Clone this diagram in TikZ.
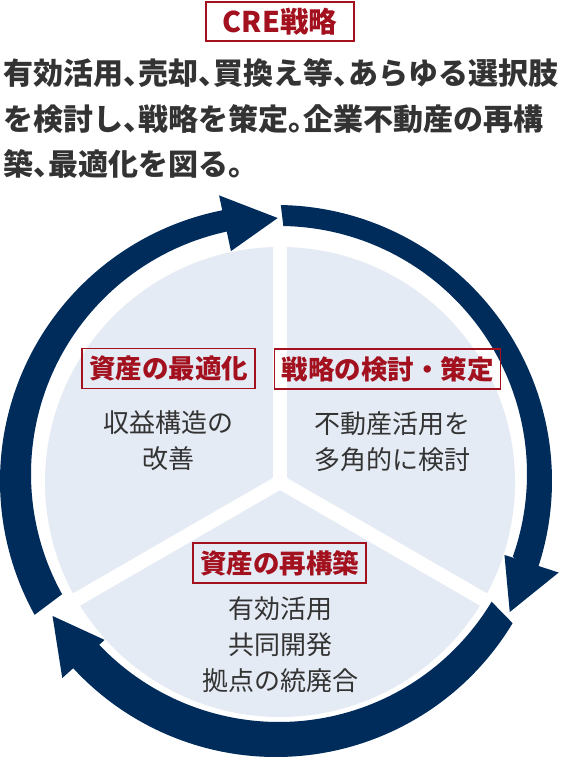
\documentclass[tikz,border=0pt]{standalone}
\usepackage{fontspec}
\usetikzlibrary{calc}
\newfontfamily\jpfont{Noto Sans CJK JP}
\newfontfamily\jphalt{Noto Sans CJK JP}[RawFeature=+halt]

\definecolor{navy}{RGB}{0,44,92}
\definecolor{diskfill}{RGB}{229,235,244}
\definecolor{crered}{RGB}{163,16,30}
\definecolor{textgray}{RGB}{51,51,51}

\tikzset{
  stagebox/.style = {draw=crered, line width=1.6pt, text=crered, inner xsep=7pt, inner ysep=0pt,
                     minimum height=40pt, font=\jpfont\bfseries\fontsize{26.5}{30}\selectfont},
  stagetext/.style = {text=textgray, align=center, inner sep=0pt,
                      font=\jpfont\fontsize{26}{36}\selectfont},
}

\begin{document}
\begin{tikzpicture}[x=1pt,y=1pt]
\useasboundingbox (0,0) rectangle (560,760);
\fill[white] (0,0) rectangle (560,760);
\coordinate (c) at (280,278);
\coordinate (o1) at (276,279);
\coordinate (o2) at (279,286);

% disk and dividers
\fill[diskfill] (c) circle[radius=235];
\foreach \a in {90,-30,210}
    \draw[white, line width=14pt] (c) -- ++(\a:242);

% ring of arrows
\foreach \a in {210,90,-30} {
    \fill[navy] ($(o1)+(\a-1:276)$) arc[start angle=\a-1, end angle=\a-109.5, radius=276]
        -- ($(o2)+(\a-109.5:248)$) arc[start angle=\a-109.5, end angle=\a-1, radius=248] -- cycle;
    \fill[navy] ($(c)+(\a-108:236)$) -- ($(c)+(\a-119.5:264)$) -- ($(c)+(\a-108:293)$) -- cycle;
}

% heading
\node[draw=crered, line width=1.6pt, fill=white, text=crered, minimum width=148pt, minimum height=39pt,
      inner sep=0pt, font=\jpfont\bfseries\fontsize{28.5}{30}\selectfont] (title) at (280,738.5) {CRE戦略};
\node[anchor=west, align=left, inner sep=0pt, text=textgray,
      font=\jphalt\bfseries\fontsize{30}{45.5}\selectfont] (lead) at (3,641.5)
    {有効活用、売却、買換え等、あらゆる選択肢\\を検討し、戦略を策定。企業不動産の再構\\築、最適化を図る。};

% stages
\node[stagebox] (optimize) at (168.5,391.5) {資産の最適化};
\node[stagetext] (optimize text) at (168,319) {収益構造の\\改善};
\node[stagebox] (plan) at (387.5,391) {戦略の検討・策定};
\node[stagetext] (plan text) at (392,318.5) {不動産活用を\\多角的に検討};
\node[stagebox] (rebuild) at (279.5,197) {資産の再構築};
\node[stagetext] (rebuild text) at (280,115) {有効活用\\共同開発\\拠点の統廃合};
\end{tikzpicture}
\end{document}
